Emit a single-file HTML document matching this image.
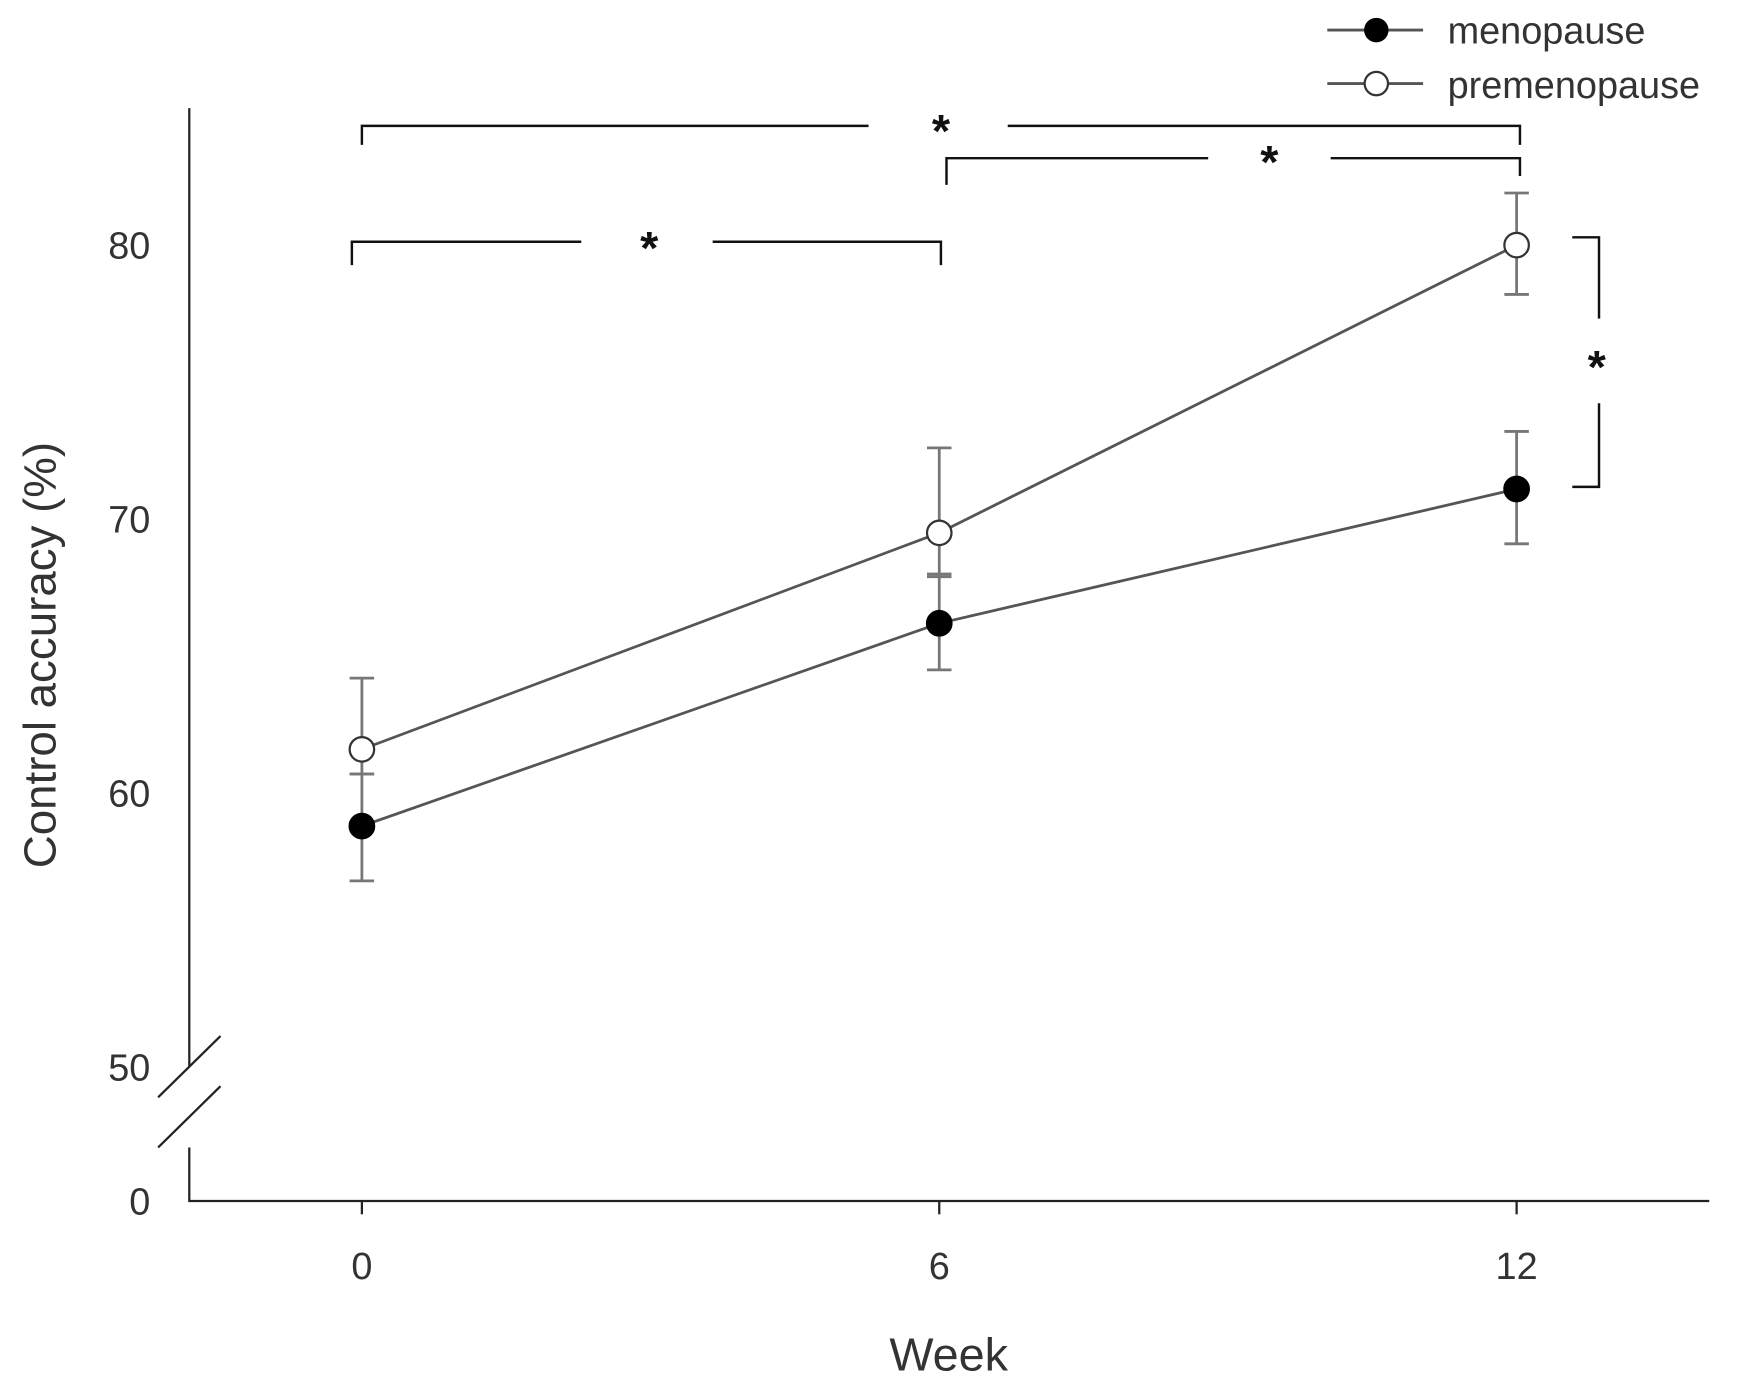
<!DOCTYPE html>
<html><head><meta charset="utf-8"><style>
html,body{margin:0;padding:0;background:#fff;}
svg{display:block;font-family:"Liberation Sans",Arial,sans-serif;}
</style></head><body>
<svg id="chart" width="1746" height="1387" viewBox="0 0 1568 1245" preserveAspectRatio="none">
<g id="axes"></g>
<g id="plot"></g>
<g id="sig" stroke="#111" stroke-width="2.2" fill="none">
<path d="M325,130 V113 H780 M905,113 H1365 V130"/>
<path d="M850,166 V142 H1085 M1195,142 H1365 V158"/>
<path d="M316,238 V217 H522 M640,217 H845 V238"/>
<path d="M1412,213 H1436 V286 M1436,362 V437 H1412"/>
</g>
<g font-size="42" font-weight="bold" fill="#111" text-anchor="middle">
<text x="845" y="132">*</text>
<text x="1140" y="160">*</text>
<text x="583" y="237">*</text>
<text x="1434" y="344">*</text>
</g>
<g id="legend">
<g>
<line x1="1192" y1="27" x2="1278" y2="27" stroke="#555" stroke-width="2.5"/>
<circle cx="1236" cy="27" r="11" fill="#000"/>
<text x="1300" y="39" font-size="34" fill="#333">menopause</text></g>
<g>
<line x1="1192" y1="75" x2="1278" y2="75" stroke="#555" stroke-width="2.5"/>
<circle cx="1236" cy="75" r="10.5" fill="#fff" stroke="#333" stroke-width="2"/>
<text x="1300" y="88" font-size="34" fill="#333">premenopause</text></g>
</g>
<text x="852" y="1230" font-size="42" fill="#333" text-anchor="middle">Week</text>
<text transform="translate(50,588) rotate(-90)" font-size="41" fill="#333" text-anchor="middle">Control accuracy (%)</text>
</svg>
<script>
const weeks=[0,6,12];
const xTickLabels=["0","6","12"];
const yTicks=[50,60,70,80];
const menoMean=[58.8,66.2,71.1];
const menoLow=[56.8,64.5,69.1];
const menoHigh=[60.7,68.0,73.2];
const preMean=[61.6,69.5,80.0];
const preLow=[60.7,67.9,78.2];
const preHigh=[64.2,72.6,81.9];
const NS='http://www.w3.org/2000/svg';
function xs(w){return 325+(w-0)*(1362-325)/12;}
function ys(v){return 712-(v-60)*24.6;}
function mk(tag,attrs,parent){const e=document.createElementNS(NS,tag);for(const k in attrs)e.setAttribute(k,attrs[k]);parent.appendChild(e);return e;}
const axes=document.getElementById('axes'),plot=document.getElementById('plot');
let e;
e=mk('path',{d:'M170,97 V1078 H1535',stroke:'#222','stroke-width':2,fill:'none'},axes);


e=mk('rect',{x:160,y:958,width:20,height:72,fill:'#fff'},axes);


e=mk('path',{d:'M142,985 L198,930 M142,1030 L198,975',stroke:'#222','stroke-width':2,fill:'none'},axes);


yTicks.forEach(v=>{
 e=mk('text',{x:135,y:ys(v)+12,'font-size':34,fill:'#333','text-anchor':'end'},axes);
 e.textContent=v;
 
 
});
e=mk('text',{x:135,y:1090,'font-size':34,fill:'#333','text-anchor':'end'},axes);
e.textContent='0';


weeks.forEach((w,i)=>{
 e=mk('line',{x1:xs(w),y1:1078,x2:xs(w),y2:1090,stroke:'#222','stroke-width':2},axes);
 
 
 e=mk('text',{x:xs(w),y:1148,'font-size':34,fill:'#333','text-anchor':'middle'},axes);
 e.textContent=xTickLabels[i];
 
 
});
function series(mean,lo,hi,filled,name){
 e=mk('polyline',{points:weeks.map((w,i)=>xs(w)+','+ys(mean[i])).join(' '),fill:'none',stroke:'#555','stroke-width':2.5},plot);
 
 
 weeks.forEach((w,i)=>{
  const x=xs(w);
  e=mk('path',{d:`M${x},${ys(lo[i])} V${ys(hi[i])} M${x-11},${ys(lo[i])} H${x+11} M${x-11},${ys(hi[i])} H${x+11}`,stroke:'#777','stroke-width':2.5,fill:'none'},plot);
  
  
 });
 weeks.forEach((w,i)=>{
  e=mk('circle',{cx:xs(w),cy:ys(mean[i]),r:11,fill:filled?'#000':'#fff',stroke:filled?'#000':'#333','stroke-width':2},plot);
  
  
 });
}
series(preMean,preLow,preHigh,false,'premenopause');
series(menoMean,menoLow,menoHigh,true,'menopause');
</script>
</body></html>
